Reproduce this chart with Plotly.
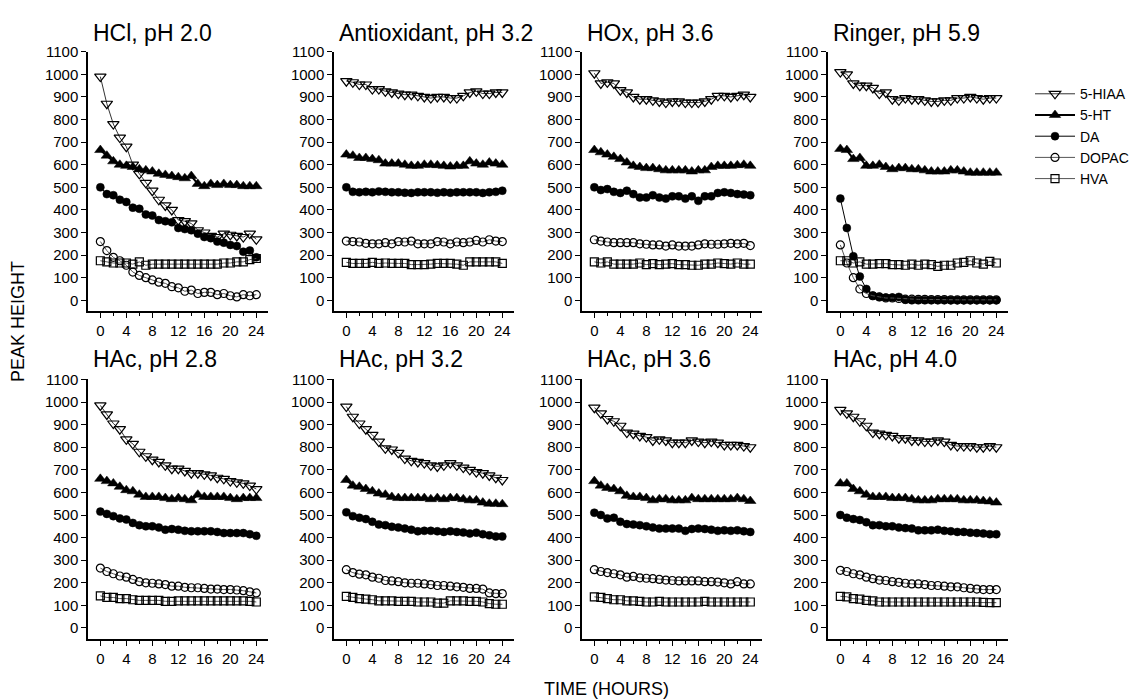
import plotly.graph_objects as go

HOURS = list(range(25))
SERIES = ["5-HIAA", "5-HT", "DA", "DOPAC", "HVA"]
PANEL_TITLES = ["HCl, pH 2.0", "Antioxidant, pH 3.2", "HOx, pH 3.6", "Ringer, pH 5.9",
                "HAc, pH 2.8", "HAc, pH 3.2", "HAc, pH 3.6", "HAc, pH 4.0"]
Y_TICKS = list(range(0, 1101, 100))
X_TICKS = [0, 4, 8, 12, 16, 20, 24]

# ---- HCl, pH 2.0
HCL_5HIAA = [990, 870, 780, 720, 680, 600, 560, 520, 485, 445, 420, 400, 355, 350, 340, 310, 300, 285, 280, 295, 290, 285, 280, 295, 270]
HCL_5HT = [665, 640, 615, 600, 595, 590, 580, 575, 570, 560, 555, 550, 545, 540, 550, 515, 505, 515, 510, 515, 510, 510, 505, 505, 505]
HCL_DA = [500, 470, 465, 445, 435, 410, 405, 380, 375, 355, 350, 345, 320, 315, 310, 295, 280, 275, 260, 255, 245, 240, 215, 220, 190]
HCL_DOPAC = [260, 220, 190, 175, 155, 125, 110, 100, 90, 80, 75, 60, 55, 40, 45, 30, 35, 35, 25, 30, 20, 15, 25, 20, 25]
HCL_HVA = [175, 170, 165, 165, 165, 160, 170, 155, 160, 160, 160, 160, 160, 160, 160, 160, 160, 160, 160, 165, 165, 170, 170, 180, 185]

# ---- Antioxidant, pH 3.2
ANT_5HIAA = [970, 965, 955, 955, 935, 935, 925, 920, 915, 910, 910, 905, 900, 895, 900, 900, 895, 895, 905, 920, 925, 915, 915, 920, 920]
ANT_5HT = [645, 640, 630, 630, 625, 620, 605, 605, 605, 600, 595, 595, 600, 600, 598, 595, 592, 595, 595, 615, 605, 600, 610, 605, 600]
ANT_DA = [500, 480, 478, 480, 478, 482, 480, 478, 478, 476, 475, 478, 478, 478, 476, 478, 476, 478, 478, 478, 478, 475, 478, 480, 485]
ANT_DOPAC = [262, 260, 258, 252, 250, 250, 255, 250, 260, 258, 262, 250, 250, 250, 260, 258, 250, 258, 255, 258, 265, 258, 268, 262, 260]
ANT_HVA = [168, 163, 163, 163, 168, 163, 165, 163, 163, 163, 158, 158, 158, 160, 163, 163, 163, 160, 155, 170, 170, 170, 170, 170, 163]

# ---- HOx, pH 3.6
HOX_5HIAA = [1005, 960, 965, 960, 930, 920, 900, 890, 890, 885, 880, 875, 880, 880, 875, 875, 875, 880, 890, 905, 905, 900, 905, 910, 900]
HOX_5HT = [665, 655, 645, 635, 625, 610, 595, 590, 585, 585, 580, 575, 575, 575, 575, 570, 575, 575, 590, 595, 595, 595, 598, 600, 595]
HOX_DA = [500, 488, 492, 480, 475, 485, 470, 455, 455, 465, 455, 450, 460, 460, 450, 460, 440, 460, 460, 475, 478, 475, 470, 468, 465]
HOX_DOPAC = [268, 262, 258, 255, 255, 255, 255, 250, 248, 245, 245, 240, 245, 240, 240, 240, 245, 250, 248, 248, 250, 252, 250, 252, 242]
HOX_HVA = [170, 165, 170, 160, 160, 160, 160, 165, 158, 162, 158, 160, 162, 158, 158, 155, 155, 160, 160, 165, 162, 160, 165, 160, 160]

# ---- Ringer, pH 5.9
RIN_5HIAA = [1010, 1000, 960, 950, 950, 940, 915, 920, 890, 885, 895, 890, 890, 885, 880, 880, 885, 885, 895, 895, 900, 895, 890, 895, 895]
RIN_5HT = [670, 665, 625, 630, 595, 595, 600, 590, 580, 585, 585, 580, 580, 575, 570, 570, 570, 575, 575, 570, 565, 565, 565, 565, 565]
RIN_DA = [450, 320, 195, 105, 50, 20, 15, 12, 12, 15, 2, 0, 0, 0, 0, 0, 0, 0, 0, 0, 0, 0, 0, 0, 0]
RIN_DOPAC = [245, 165, 100, 50, 30, 20, 15, 10, 10, 8, 5, 5, 4, 4, 3, 3, 3, 2, 2, 2, 2, 2, 2, 2, 2]
RIN_HVA = [175, 175, 165, 170, 160, 160, 162, 162, 158, 158, 155, 160, 155, 160, 158, 150, 155, 155, 165, 168, 175, 165, 160, 172, 165]

# ---- HAc, pH 2.8
A28_5HIAA = [985, 945, 905, 880, 835, 815, 780, 760, 745, 735, 720, 705, 705, 695, 685, 685, 680, 675, 665, 660, 650, 645, 640, 630, 615]
A28_5HT = [660, 650, 640, 625, 610, 605, 590, 580, 580, 580, 575, 570, 575, 570, 565, 590, 580, 580, 580, 580, 575, 570, 575, 575, 575]
A28_DA = [515, 505, 495, 485, 480, 465, 455, 450, 450, 445, 435, 438, 435, 430, 428, 428, 428, 428, 425, 420, 420, 420, 420, 415, 408]
A28_DOPAC = [265, 250, 240, 230, 225, 215, 205, 200, 198, 195, 192, 185, 185, 180, 178, 178, 175, 172, 172, 170, 170, 168, 165, 160, 155]
A28_HVA = [142, 135, 135, 130, 130, 125, 122, 122, 122, 122, 118, 118, 120, 120, 120, 120, 120, 120, 120, 120, 120, 120, 120, 118, 115]

# ---- HAc, pH 3.2
A32_5HIAA = [980, 935, 905, 880, 855, 825, 795, 790, 775, 750, 740, 735, 730, 720, 715, 720, 730, 720, 710, 700, 690, 685, 675, 665, 655]
A32_5HT = [655, 630, 625, 615, 605, 595, 590, 580, 575, 575, 575, 575, 575, 570, 575, 570, 575, 575, 570, 565, 565, 555, 550, 550, 548]
A32_DA = [512, 495, 488, 482, 470, 458, 455, 448, 445, 440, 435, 428, 430, 430, 428, 425, 428, 425, 423, 418, 422, 415, 410, 405, 405]
A32_DOPAC = [258, 245, 238, 235, 225, 220, 210, 208, 205, 200, 198, 198, 195, 192, 188, 188, 185, 182, 180, 175, 175, 172, 155, 152, 152]
A32_HVA = [140, 135, 130, 128, 125, 120, 120, 120, 118, 118, 118, 115, 115, 115, 110, 110, 120, 120, 120, 118, 118, 115, 108, 105, 105]

# ---- HAc, pH 3.6
A36_5HIAA = [975, 950, 925, 915, 895, 865, 860, 850, 845, 830, 835, 830, 820, 820, 820, 830, 825, 820, 825, 820, 810, 810, 810, 805, 800]
A36_5HT = [650, 630, 620, 615, 605, 585, 580, 580, 575, 565, 570, 570, 565, 565, 565, 575, 570, 570, 570, 570, 570, 570, 575, 570, 562]
A36_DA = [510, 500, 485, 488, 470, 460, 458, 455, 450, 445, 440, 440, 440, 440, 430, 438, 440, 438, 435, 430, 432, 430, 432, 428, 425]
A36_DOPAC = [258, 250, 245, 240, 235, 225, 228, 222, 220, 218, 215, 212, 210, 208, 208, 208, 208, 205, 205, 203, 200, 195, 205, 195, 195]
A36_HVA = [138, 135, 130, 125, 125, 120, 120, 118, 115, 115, 118, 115, 115, 115, 115, 115, 115, 118, 115, 115, 115, 115, 115, 115, 115]

# ---- HAc, pH 4.0
A40_5HIAA = [965, 950, 935, 915, 895, 865, 860, 855, 850, 840, 840, 830, 830, 825, 825, 830, 825, 810, 805, 805, 805, 800, 800, 805, 800]
A40_5HT = [640, 640, 615, 605, 590, 580, 580, 580, 575, 575, 575, 570, 565, 565, 565, 570, 570, 570, 570, 565, 565, 565, 562, 560, 555]
A40_DA = [500, 488, 482, 478, 468, 455, 455, 450, 450, 445, 442, 440, 432, 432, 432, 435, 430, 428, 425, 425, 422, 420, 418, 415, 415]
A40_DOPAC = [255, 250, 240, 235, 225, 218, 212, 210, 205, 202, 198, 195, 195, 192, 188, 188, 185, 182, 182, 178, 175, 172, 170, 170, 170]
A40_HVA = [140, 138, 130, 128, 122, 120, 115, 115, 115, 115, 115, 115, 115, 115, 115, 115, 115, 115, 115, 115, 115, 115, 113, 112, 112]

PANELS = [
    [HCL_5HIAA, HCL_5HT, HCL_DA, HCL_DOPAC, HCL_HVA],
    [ANT_5HIAA, ANT_5HT, ANT_DA, ANT_DOPAC, ANT_HVA],
    [HOX_5HIAA, HOX_5HT, HOX_DA, HOX_DOPAC, HOX_HVA],
    [RIN_5HIAA, RIN_5HT, RIN_DA, RIN_DOPAC, RIN_HVA],
    [A28_5HIAA, A28_5HT, A28_DA, A28_DOPAC, A28_HVA],
    [A32_5HIAA, A32_5HT, A32_DA, A32_DOPAC, A32_HVA],
    [A36_5HIAA, A36_5HT, A36_DA, A36_DOPAC, A36_HVA],
    [A40_5HIAA, A40_5HT, A40_DA, A40_DOPAC, A40_HVA],
]

# page is 1138x700; the HTML body adds an 8px margin, so the figure is 8px smaller
OFF = 8
W, H = 1138 - OFF, 700 - OFF
FONT = "Arial, Liberation Sans, Helvetica, sans-serif"


def px_x(px):
    return (px - OFF) / W


def px_y(px):
    return (H - (px - OFF)) / H


STYLES = [
    dict(symbol="triangle-down-open", size=10, lc="#333333", lw=1),
    dict(symbol="triangle-up", size=10, lc="black", lw=2),
    dict(symbol="circle", size=8, lc="black", lw=1),
    dict(symbol="circle-open", size=8, lc="#555555", lw=1),
    dict(symbol="square-open", size=8, lc="#555555", lw=1),
]

AXIS_LEFT_PX = [88, 334, 582, 828]
AXIS_W_PX = 180
ROW_TOP_PX = [43, 375]
ROW_BOT_PX = [306, 638]

fig = go.Figure()
layout = dict()
annotations = []

for p, panel in enumerate(PANELS):
    row, col = divmod(p, 4)
    ax = p + 1
    xname = "xaxis" if ax == 1 else f"xaxis{ax}"
    yname = "yaxis" if ax == 1 else f"yaxis{ax}"
    xref = "x" if ax == 1 else f"x{ax}"
    yref = "y" if ax == 1 else f"y{ax}"
    layout[xname] = dict(
        domain=[px_x(AXIS_LEFT_PX[col]), px_x(AXIS_LEFT_PX[col] + AXIS_W_PX)],
        anchor=yref, range=[-1.9, 25.8],
        tickvals=X_TICKS, ticks="outside", ticklen=5, tickwidth=1.2,
        showline=True, linecolor="black", linewidth=1.5, showgrid=False,
        zeroline=False, tickfont=dict(family=FONT, size=15, color="black"),
        minor=dict(dtick=2, tick0=0, ticks="outside", ticklen=3, tickwidth=1, tickcolor="black"),
        tickcolor="black",
    )
    layout[yname] = dict(
        domain=[px_y(ROW_BOT_PX[row]), px_y(ROW_TOP_PX[row])],
        anchor=xref, range=[-48, 1101],
        tickvals=Y_TICKS, ticks="outside", ticklen=5, tickwidth=1.2,
        showline=True, linecolor="black", linewidth=1.5, showgrid=False,
        zeroline=False, tickfont=dict(family=FONT, size=15, color="black"),
        tickcolor="black",
    )
    for s, vals in enumerate(panel):
        st = STYLES[s]
        is_open = "open" in st["symbol"]
        fig.add_trace(go.Scatter(
            x=HOURS, y=vals, mode="lines+markers", name=SERIES[s],
            xaxis=xref, yaxis=yref, showlegend=(p == 0), legendgroup=SERIES[s],
            line=dict(color=st["lc"], width=st["lw"]),
            marker=dict(symbol=st["symbol"], size=st["size"], color="black",
                        line=dict(color="black", width=1.2 if is_open else 0.5)),
            cliponaxis=False,
        ))
    title_y_px = 24 if row == 0 else 355
    annotations.append(dict(
        text=PANEL_TITLES[p], xref="paper", yref="paper",
        x=px_x(AXIS_LEFT_PX[col] + 3), y=px_y(title_y_px),
        xanchor="left", yanchor="middle", showarrow=False,
        font=dict(family=FONT, size=23, color="black"),
    ))

annotations.append(dict(
    text="PEAK HEIGHT", xref="paper", yref="paper", x=px_x(18), y=px_y(317),
    xanchor="center", yanchor="middle", textangle=-90, showarrow=False,
    font=dict(family=FONT, size=18, color="black"),
))
annotations.append(dict(
    text="TIME (HOURS)", xref="paper", yref="paper", x=px_x(606), y=px_y(689),
    xanchor="center", yanchor="middle", showarrow=False,
    font=dict(family=FONT, size=18, color="black"),
))

fig.update_layout(
    **layout,
    width=W, height=H, autosize=False,
    margin=dict(l=0, r=0, t=0, b=0),
    paper_bgcolor="white", plot_bgcolor="white",
    annotations=annotations,
    showlegend=True,
    legend=dict(x=px_x(1030), y=px_y(70), xanchor="left", yanchor="top",
                font=dict(family=FONT, size=14, color="black"),
                itemwidth=40, tracegroupgap=0, bgcolor="rgba(0,0,0,0)"),
)

fig.write_html("out.html")
